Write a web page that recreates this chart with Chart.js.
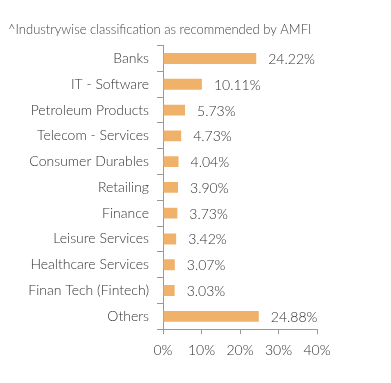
<!DOCTYPE html>
<html>
<head>
<meta charset="utf-8">
<script src="https://cdn.jsdelivr.net/npm/chart.js@4/dist/chart.umd.min.js"></script>
<style>
  html, body { margin: 0; padding: 0; background: #fff; }
  #wrap { width: 391px; height: 383px; position: relative; }
</style>
</head>
<body>
<div id="wrap"><canvas id="barchart-container"></canvas></div>
<script>
// Dados do gráfico
var categorias = ['Banks', 'IT - Software', 'Petroleum Products', 'Telecom - Services', 'Consumer Durables',
  'Retailing', 'Finance', 'Leisure Services', 'Healthcare Services', 'Finan Tech (Fintech)', 'Others'];
var valores = [24.22, 10.11, 5.73, 4.73, 4.04, 3.90, 3.73, 3.42, 3.07, 3.03, 24.88];
var ticksX = [0, 10, 20, 30, 40];
var titulo = '^Industrywise classification as recommended by AMFI';

var fonte = 'Lato';
var corTexto = '#333';
var corEixo = '#999';

// Plugin simples para escrever os valores ao lado das barras
var rotulos = {
  id: 'rotulos',
  afterDatasetsDraw: function(chart) {
    var ctx = chart.ctx;
    var meta = chart.getDatasetMeta(0);
    ctx.save();
    ctx.font = '300 14px ' + fonte;
    ctx.fillStyle = corTexto;
    ctx.textAlign = 'left';
    ctx.textBaseline = 'middle';
    meta.data.forEach(function(bar, i) {
      ctx.fillText(valores[i].toFixed(2) + '%', bar.x + 12, bar.y + 1);
    });
    ctx.restore();
  }
};

var container = document.getElementById('barchart-container');
var myBarChart = new Chart(container, {
  type: 'bar',
  data: {
    labels: categorias,
    datasets: [{
      data: valores,
      backgroundColor: '#F0B26B',
      categoryPercentage: 0.84,
      barPercentage: 0.5
    }]
  },
  options: {
    indexAxis: 'y',
    responsive: true,
    maintainAspectRatio: false,
    animation: false,
    layout: { padding: { left: 8, right: 74, top: 0, bottom: 16 } },
    plugins: {
      legend: { display: false },
      tooltip: { enabled: false },
      title: {
        display: true,
        text: titulo,
        align: 'start',
        color: '#444',
        font: { family: fonte, size: 13, weight: '300' },
        padding: { top: 22, bottom: 8 }
      }
    },
    scales: {
      x: {
        min: 0,
        max: 40,
        afterBuildTicks: function(axis) {
          axis.ticks = ticksX.map(function(v) { return { value: v }; });
        },
        grid: { drawOnChartArea: false, drawTicks: true, tickLength: 5, color: corEixo },
        border: { color: corEixo },
        ticks: {
          color: corTexto,
          padding: 8,
          font: { family: fonte, size: 14, weight: '300' },
          callback: function(v) { return v + '%'; }
        }
      },
      y: {
        afterFit: function(axis) { axis.width = 155; },
        grid: { drawOnChartArea: false, drawTicks: true, tickLength: 6, color: corEixo },
        border: { color: corEixo },
        ticks: {
          color: corTexto,
          padding: 8,
          font: { family: fonte, size: 14, weight: '300' }
        }
      }
    }
  },
  plugins: [rotulos]
});
</script>
</body>
</html>
